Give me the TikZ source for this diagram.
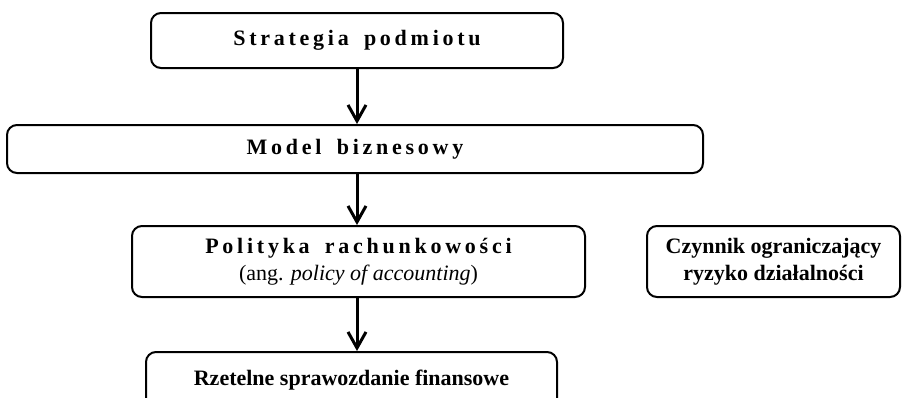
\documentclass[tikz,border=0pt]{standalone}
\usepackage{fontspec}
\setmainfont{Liberation Serif}
\newfontfamily\spaced[LetterSpace=17]{Liberation Serif}
\usetikzlibrary{arrows.meta}

\begin{document}
\begin{tikzpicture}[x=0.5pt,y=-0.5pt,
    box/.style={draw=black,line width=1pt,rounded corners=5pt,inner sep=0pt,
                align=center,font=\fontsize{11}{13.5}\selectfont},
    flow/.style={line width=1.5pt,-{Straight Barb[length=8pt,width=9pt,line width=1.5pt]}}]
\useasboundingbox (0,0) rectangle (906,397);
\clip (0,0) rectangle (906,397);

    \node[box,minimum width=206pt,minimum height=27.5pt] (strat) at (357,40.5)
        {\spaced\bfseries Strategia\hspace{3pt} podmiotu};
    \node[box,minimum width=348pt,minimum height=24pt] (model) at (355,149)
        {\spaced\bfseries Model\hspace{3pt} biznesowy};
    \node[box,minimum width=226.5pt,minimum height=35.5pt] (polit) at (358.5,261.5)
        {{\spaced\bfseries Polityka\hspace{3pt} rachunkowości}\\(ang. \textit{policy of accounting})};
    \node[box,minimum width=205.5pt,minimum height=34pt,text height=8pt,text depth=9pt,
          anchor=north] (spraw) at (351.5,351)
        {\bfseries Rzetelne sprawozdanie finansowe};
    \node[box,minimum width=126.5pt,minimum height=35.5pt] (ryzyko) at (773.5,261.5)
        {\bfseries Czynnik ograniczający\\\bfseries ryzyko działalności};

    \draw[flow] (strat.south) -- (strat.south |- model.north);
    \draw[flow] (strat.south |- model.south) -- (strat.south |- polit.north);
    \draw[flow] (strat.south |- polit.south) -- (strat.south |- spraw.north);
\end{tikzpicture}
\end{document}
